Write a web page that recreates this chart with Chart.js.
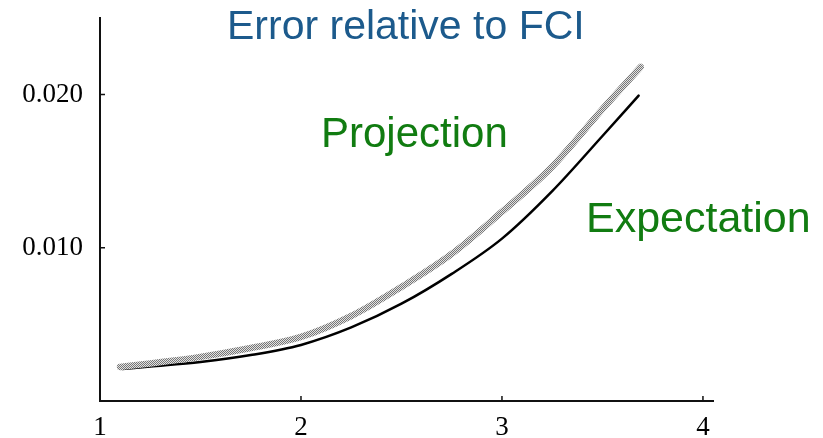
<!DOCTYPE html>
<html>
<head>
<meta charset="utf-8">
<script src="https://cdn.jsdelivr.net/npm/chart.js@4/dist/chart.umd.min.js"></script>
<style>
  html, body { margin: 0; padding: 0; background: #fff; }
  #wrap { width: 823px; height: 438px; position: relative; }
</style>
</head>
<body>
<div id="wrap"><canvas id="c" width="823" height="438"></canvas></div>
<script>
// ---- data ----
const xExpectation = [1.11, 1.25, 1.5, 1.75, 2.0, 2.25, 2.5, 2.75, 3.0, 3.25, 3.5, 3.68];
const yExpectation = [0.00209, 0.00225, 0.00255, 0.00300, 0.00366, 0.00480, 0.00635, 0.00830, 0.01060, 0.01370, 0.01730, 0.01993];
const xProjection  = [1.10, 1.25, 1.5, 1.75, 2.0, 2.25, 2.5, 2.75, 3.0, 3.25, 3.5, 3.69];
const yProjection  = [0.00222, 0.00245, 0.00288, 0.00346, 0.00418, 0.00555, 0.00745, 0.00960, 0.01235, 0.01530, 0.01905, 0.02180];
const xTicks = [1, 2, 3, 4];
const yTicks = [0.010, 0.020];
const yTickLabels = ['0.010', '0.020'];
const titleText = 'Error relative to FCI';
const seriesNames = ['Projection', 'Expectation'];

// stippled gray pattern for the thick curve
function stipple() {
  const p = document.createElement('canvas');
  p.width = 2; p.height = 2;
  const g = p.getContext('2d');
  g.fillStyle = '#e2e2e2'; g.fillRect(0, 0, 2, 2);
  g.fillStyle = '#767676'; g.fillRect(0, 0, 1, 1); g.fillRect(1, 1, 1, 1);
  return g.createPattern(p, 'repeat');
}
const ctx0 = document.getElementById('c').getContext('2d');
const grayPattern = stipple();

const toPts = (xs, ys) => xs.map((x, i) => ({ x: x, y: ys[i] }));

const annotations = {
  id: 'annotations',
  afterDraw(chart) {
    const ctx = chart.ctx;
    ctx.save();
    const xs = chart.scales.x, ys = chart.scales.y;
    ctx.strokeStyle = '#111';
    ctx.lineWidth = 1.5;
    ctx.beginPath();
    yTicks.forEach(v => {
      const py = ys.getPixelForValue(v);
      ctx.moveTo(xs.left, py); ctx.lineTo(xs.left + 5, py);
    });
    xTicks.slice(1).forEach(v => {
      const px = xs.getPixelForValue(v);
      ctx.moveTo(px, ys.bottom); ctx.lineTo(px, ys.bottom - 5);
    });
    ctx.stroke();
    ctx.textBaseline = 'alphabetic';
    ctx.textAlign = 'left';
    ctx.fillStyle = '#1c5a8c';
    ctx.font = '41px "Liberation Sans", Arial, sans-serif';
    ctx.fillText(titleText, 227, 39);
    ctx.fillStyle = '#117c11';
    ctx.font = '42px "Liberation Sans", Arial, sans-serif';
    ctx.fillText(seriesNames[0], 321, 147);
    ctx.font = '43px "Liberation Sans", Arial, sans-serif';
    ctx.fillText(seriesNames[1], 586, 232);
    ctx.restore();
  }
};

new Chart(ctx0, {
  type: 'scatter',
  data: {
    datasets: [
      {
        label: seriesNames[0],
        data: toPts(xProjection, yProjection),
        showLine: true,
        borderColor: grayPattern,
        borderWidth: 6.5,
        borderCapStyle: 'round',
        pointRadius: 0,
        tension: 0.4,
        cubicInterpolationMode: 'monotone'
      },
      {
        label: seriesNames[1],
        data: toPts(xExpectation, yExpectation),
        showLine: true,
        borderColor: '#000',
        borderWidth: 2.5,
        borderCapStyle: 'round',
        pointRadius: 0,
        tension: 0.4,
        cubicInterpolationMode: 'monotone'
      }
    ]
  },
  options: {
    responsive: false,
    animation: false,
    devicePixelRatio: 1,
    layout: { padding: { top: 18, right: 110, left: 0, bottom: 0 } },
    plugins: { legend: { display: false }, tooltip: { enabled: false }, title: { display: false } },
    scales: {
      x: {
        type: 'linear',
        min: 1, max: 4.05,
        afterBuildTicks: s => { s.ticks = xTicks.map(v => ({ value: v })); },
        afterFit: s => { s.height = 37; s.paddingLeft = 0; s.paddingRight = 0; },
        grid: { display: true, drawOnChartArea: false, drawTicks: false },
        border: { display: true, color: '#111', width: 2 },
        ticks: {
          color: '#000', padding: 11, maxRotation: 0, autoSkip: false,
          font: { family: '"Liberation Serif", "Times New Roman", serif', size: 27 },
          callback: v => String(v)
        }
      },
      y: {
        type: 'linear',
        min: 0, max: 0.025,
        afterBuildTicks: s => { s.ticks = yTicks.map(v => ({ value: v })); },
        afterFit: s => { s.width = 100; s.paddingTop = 0; s.paddingBottom = 0; },
        grid: { display: true, drawOnChartArea: false, drawTicks: false },
        border: { display: true, color: '#111', width: 2 },
        ticks: {
          color: '#000', padding: 17, autoSkip: false,
          font: { family: '"Liberation Serif", "Times New Roman", serif', size: 27 },
          callback: (v) => { const i = yTicks.indexOf(v); return i >= 0 ? yTickLabels[i] : ''; }
        }
      }
    }
  },
  plugins: [annotations]
});
</script>
</body>
</html>
